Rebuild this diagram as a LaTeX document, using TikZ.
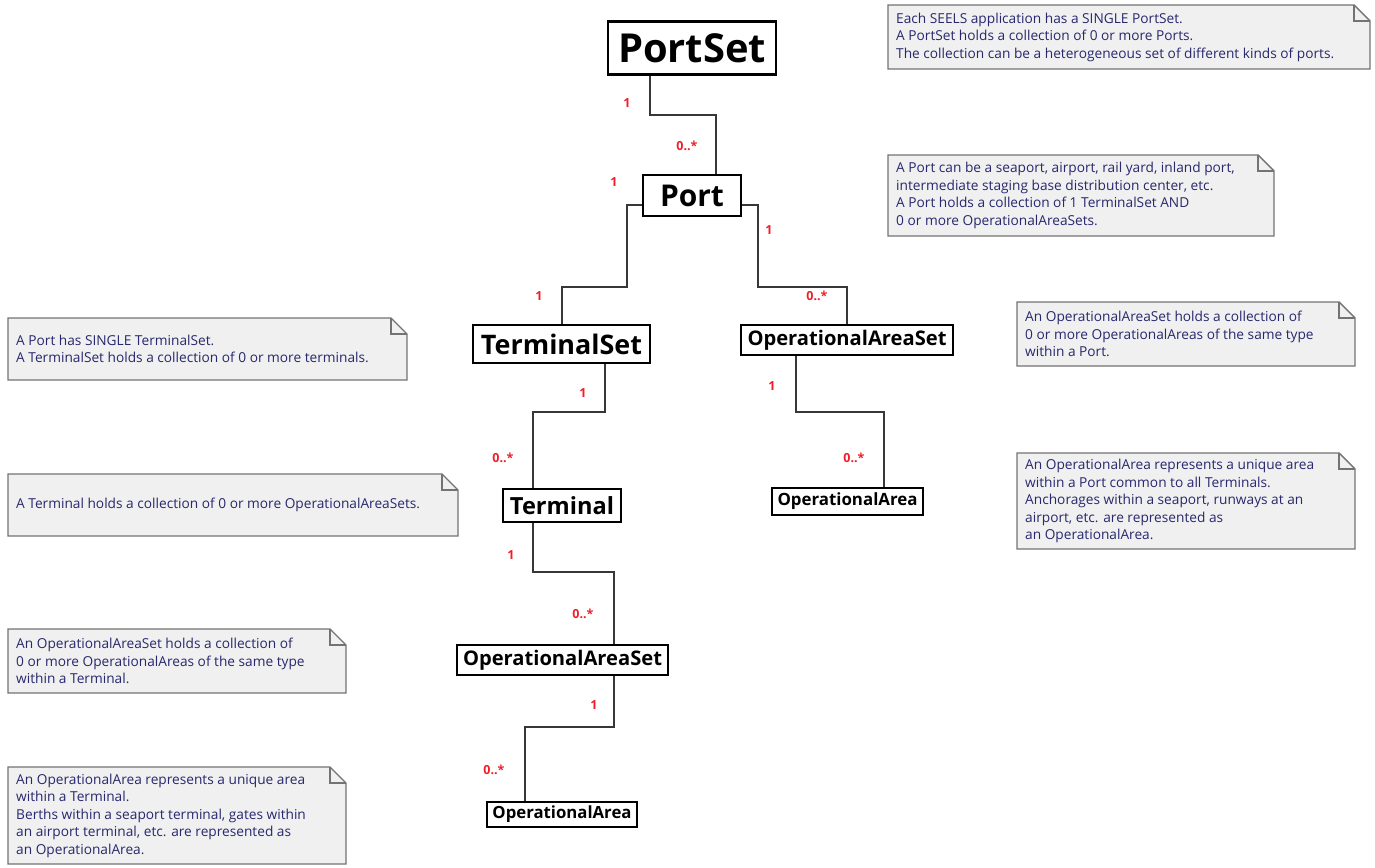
\documentclass[tikz,border=0pt]{standalone}
\usepackage{fontspec}
\setmainfont{Open Sans}
\usepackage{graphicx}
\definecolor{notefill}{RGB}{240,240,240}
\definecolor{noteline}{RGB}{115,115,115}
\definecolor{notetext}{RGB}{40,40,110}
\definecolor{multred}{RGB}{240,30,40}
\definecolor{connline}{RGB}{55,55,55}
\newcommand{\mynote}[6]{%
  \draw[noteline, fill=notefill, line width=1.4] (#1,#2) -- (#3-16,#2) -- (#3,#2+16) -- (#3,#4) -- (#1,#4) -- cycle;
  \draw[noteline, line width=1.4] (#3-16,#2) -- (#3-16,#2+16) -- (#3,#2+16);
  \node[notetxt] (#5) at (#1+8,{(#2+#4)/2}) {#6};
}
\newcommand{\ttl}[2]{\resizebox{#1pt}{!}{\bfseries #2}}
\tikzset{
  classbox/.style={draw=black, line width=2.4, fill=white, inner sep=0pt},
  notetxt/.style={anchor=west, align=left, text=notetext, inner sep=0pt,
    font=\fontsize{13.7}{17.5}\selectfont},
  mult/.style={text=multred, inner sep=0pt, font=\fontsize{12.5}{13}\selectfont\bfseries},
  conn/.style={draw=connline, line width=1.4},
}
\begin{document}
\begin{tikzpicture}[x=1pt, y=-1pt]
\useasboundingbox (0,0) rectangle (1375,867);

% notes
\mynote{888}{5}{1370}{69}{n1}{Each SEELS application has a SINGLE PortSet.\\A PortSet holds a collection of 0 or more Ports.\\The collection can be a heterogeneous set of different kinds of ports.}
\mynote{888}{155}{1274}{236}{n2}{A Port can be a seaport, airport, rail yard, inland port,\\intermediate staging base distribution center, etc.\\A Port holds a collection of 1 TerminalSet AND\\0 or more OperationalAreaSets.}
\mynote{8}{318}{407}{380}{n3}{A Port has SINGLE TerminalSet.\\A TerminalSet holds a collection of 0 or more terminals.}
\mynote{1017}{302}{1355}{366}{n4}{An OperationalAreaSet holds a collection of\\0 or more OperationalAreas of the same type\\within a Port.}
\mynote{1017}{453}{1355}{549}{n5}{An OperationalArea represents a unique area\\within a Port common to all Terminals.\\Anchorages within a seaport, runways at an\\airport, etc. are represented as\\an OperationalArea.}
\mynote{8}{474}{458}{536}{n6}{A Terminal holds a collection of 0 or more OperationalAreaSets.}
\mynote{8}{629}{346}{693}{n7}{An OperationalAreaSet holds a collection of\\0 or more OperationalAreas of the same type\\within a Terminal.}
\mynote{8}{767}{346}{864}{n8}{An OperationalArea represents a unique area\\within a Terminal.\\Berths within a seaport terminal, gates within\\an airport terminal, etc. are represented as\\an OperationalArea.}

% class boxes
\node[classbox, minimum width=168, minimum height=53] (portset) at (692,48) {\ttl{148}{PortSet}};
\node[classbox, minimum width=98, minimum height=41] (port) at (692,195.5) {\ttl{64}{Port}};
\node[classbox, minimum width=177, minimum height=38] (ts) at (561.5,344) {\ttl{161}{TerminalSet}};
\node[classbox, minimum width=212, minimum height=30] (oas) at (847,340) {\ttl{199}{OperationalAreaSet}};
\node[classbox, minimum width=118, minimum height=33] (term) at (562,505.5) {\ttl{104}{Terminal}};
\node[classbox, minimum width=151, minimum height=27] (oa) at (847.5,501.5) {\ttl{140}{OperationalArea}};
\node[classbox, minimum width=211, minimum height=30] (oas2) at (562.5,660) {\ttl{199}{OperationalAreaSet}};
\node[classbox, minimum width=150, minimum height=25] (oa2) at (562,814.5) {\ttl{139}{OperationalArea}};

% connectors
\draw[conn] (portset.south -| 650,0) -- (650,115) -- (716,115) -- (port.north -| 716,0);
\draw[conn] (port.west |- 0,205) -- (627,205) -- (627,287) -- (562,287) -- (ts.north -| 562,0);
\draw[conn] (port.east |- 0,205) -- (758,205) -- (758,287) -- (847,287) -- (oas.north -| 847,0);
\draw[conn] (ts.south -| 605,0) -- (605,412) -- (533,412) -- (term.north -| 533,0);
\draw[conn] (oas.south -| 796,0) -- (796,412) -- (884,412) -- (oa.north -| 884,0);
\draw[conn] (term.south -| 533,0) -- (533,572) -- (614,572) -- (oas2.north -| 614,0);
\draw[conn] (oas2.south -| 614,0) -- (614,727) -- (525,727) -- (oa2.north -| 525,0);

% multiplicities
\node[mult] (m1) at (627,103) {1};
\node[mult] (m2) at (687,146) {0..*};
\node[mult] (m3) at (614,182) {1};
\node[mult] (m4) at (539,296) {1};
\node[mult] (m5) at (769,230) {1};
\node[mult] (m6) at (817,296) {0..*};
\node[mult] (m7) at (583,393) {1};
\node[mult] (m8) at (503,458) {0..*};
\node[mult] (m9) at (772,386) {1};
\node[mult] (m10) at (854,458) {0..*};
\node[mult] (m11) at (511,555) {1};
\node[mult] (m12) at (583,614) {0..*};
\node[mult] (m13) at (594,705) {1};
\node[mult] (m14) at (494,770) {0..*};
\end{tikzpicture}
\end{document}
